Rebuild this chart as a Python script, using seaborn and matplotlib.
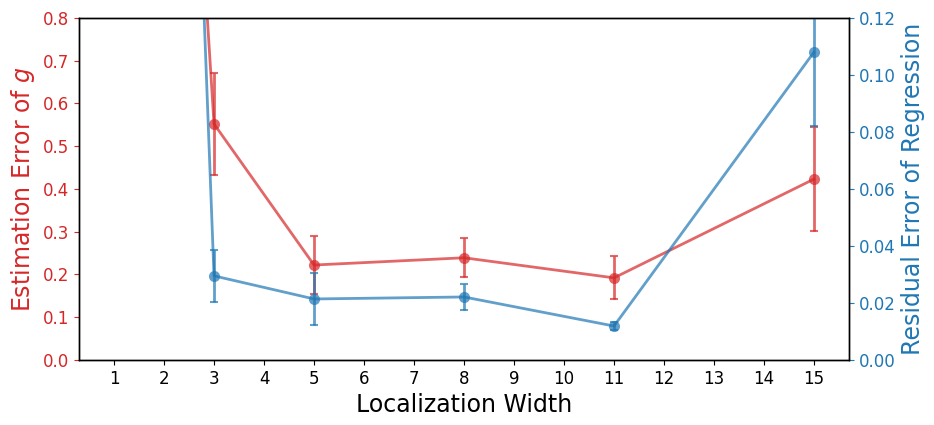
import numpy as np
import pandas as pd
import matplotlib
matplotlib.use("Agg")
import matplotlib.pyplot as plt
import seaborn as sns

# ── Data ────────────────────────────────────────────────────────────────────
widths      = [1, 3, 5, 8, 11, 15]
est_error   = [4.25, 0.552, 0.222, 0.239, 0.192, 0.423]
est_std     = [0.30, 0.120, 0.067, 0.046, 0.050, 0.122]
resid_error = [0.95, 0.0295, 0.0214, 0.0221, 0.0119, 0.108]
resid_std   = [0.05, 0.0091, 0.0091, 0.0045, 0.0015, 0.026]
x_ticks     = list(range(1, 16))

RED  = "tab:red"
BLUE = "tab:blue"

sns.set_style("ticks")
plt.rcParams["font.family"] = ["DejaVu Sans"]
plt.rcParams["text.color"] = "black"
plt.rcParams["axes.labelcolor"] = "black"

df = pd.DataFrame({
    "width": widths,
    "est": est_error,
    "resid": resid_error,
})

fig = plt.figure(figsize=(9.34, 4.25), dpi=100)
ax1 = fig.add_axes([0.0846, 0.153, 0.8244, 0.805])
ax2 = ax1.twinx()

# left axis: estimation error of g
sns.lineplot(data=df, x="width", y="est", ax=ax1, color=RED, alpha=0.7,
             linewidth=2, marker="o", markersize=8, markeredgewidth=0)
ax1.errorbar(widths, est_error, yerr=est_std, fmt="none", ecolor=RED,
             alpha=0.7, elinewidth=2, capsize=3, capthick=1.5)

# right axis: residual error of regression
sns.lineplot(data=df, x="width", y="resid", ax=ax2, color=BLUE, alpha=0.7,
             linewidth=2, marker="o", markersize=8, markeredgewidth=0)
ax2.errorbar(widths, resid_error, yerr=resid_std, fmt="none", ecolor=BLUE,
             alpha=0.7, elinewidth=2, capsize=3, capthick=1.5)

ax1.set_xlim(0.3, 15.7)
ax1.set_ylim(0, 0.8)
ax2.set_ylim(0, 0.12)
ax1.set_xticks(x_ticks)
ax1.set_yticks(np.arange(0, 0.81, 0.1))
ax2.set_yticks(np.arange(0, 0.121, 0.02))

ax1.set_xlabel("Localization Width", fontsize=17, color="black")
ax1.set_ylabel("Estimation Error of $g$", fontsize=17, color=RED)
ax2.set_ylabel("Residual Error of Regression", fontsize=17, color=BLUE)

ax1.tick_params(axis="x", labelsize=12, colors="black")
ax1.tick_params(axis="y", labelsize=12, colors=RED)
ax2.tick_params(axis="y", labelsize=12, colors=BLUE)
for a in (ax1, ax2):
    for s in a.spines.values():
        s.set_color("black")
        s.set_linewidth(1.0)

fig.savefig("out.png", dpi=100)
